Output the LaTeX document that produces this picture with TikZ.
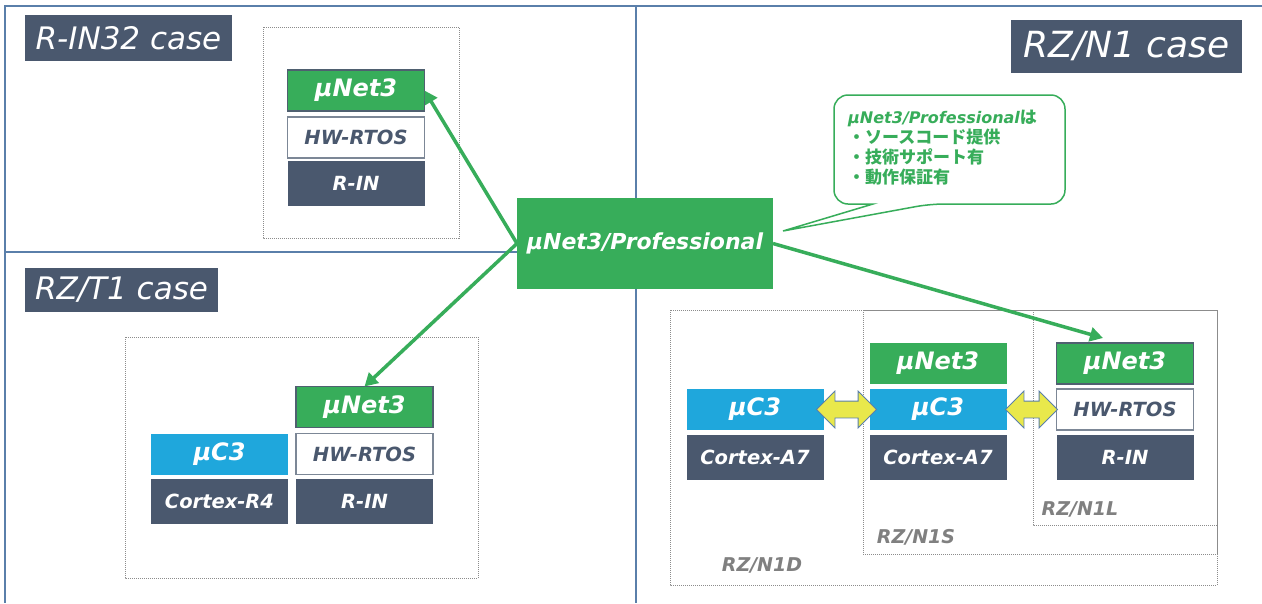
\documentclass[tikz,border=0pt]{standalone}
\usepackage{fontspec}
\newfontfamily\vfont{DejaVu Sans}[BoldFont={DejaVu Sans Bold},ItalicFont={DejaVu Sans Oblique},BoldItalicFont={DejaVu Sans Bold Oblique}]
\newfontfamily\cjk{Noto Sans CJK JP}
\usetikzlibrary{positioning,
	calc,
	shapes.arrows,
	arrows.meta}
\definecolor{slate}{HTML}{4A586E}
\definecolor{netgreen}{HTML}{37AD5A}
\definecolor{netedge}{HTML}{4F6070}
\definecolor{c3blue}{HTML}{1FA7DC}
\definecolor{rtosedge}{HTML}{7C8796}
\definecolor{framecol}{HTML}{5A7FAA}
\definecolor{swapyellow}{HTML}{E9E84B}
\tikzset{
	chip/.style={minimum width=137pt, minimum height=41pt, inner sep=0pt, outer sep=0pt,
		font=\vfont\bfseries\itshape\fontsize{19.5}{22}\selectfont},
	netbox/.style={chip, fill=netgreen, draw=netedge, line width=1.5pt, text=white,
		font=\vfont\bfseries\itshape\fontsize{24}{28}\selectfont},
	c3box/.style={chip, fill=c3blue, text=white,
		font=\vfont\bfseries\itshape\fontsize{24}{28}\selectfont},
	rtosbox/.style={chip, fill=white, draw=rtosedge, line width=1.5pt, text=slate},
	corebox/.style={chip, minimum height=45pt, fill=slate, text=white},
	casebox/.style={fill=slate, text=white, inner sep=0pt,
		font=\vfont\itshape\fontsize{31}{36}\selectfont},
	dotbox/.style={draw=black!45, line width=0.9pt, dash pattern=on 1pt off 1pt},
	dotlabel/.style={text=black!50, font=\vfont\bfseries\itshape\fontsize{19}{22}\selectfont},
	frame/.style={draw=framecol, line width=1.5pt},
	proarrow/.style={->, draw=netgreen, line width=3.5pt},
	swap/.style={double arrow, fill=swapyellow, draw=framecol, line width=0.8pt,
		inner sep=8pt, double arrow head extend=10pt, minimum width=36pt},
	>={Triangle[length=13pt,width=14pt]}
}
\begin{document}
\begin{tikzpicture}[x=1pt,y=-1pt]
	\useasboundingbox (0,0) rectangle (1262,603);
	\fill[white] (0,0) rectangle (1262,603);
	% panels
	\draw[frame] (1262,6) -- (5,6) -- (5,603);
	\draw[frame] (636,6) -- (636,603);
	\draw[frame] (5,252) -- (636,252);
	\node[casebox, minimum width=207pt, minimum height=46pt] (rcase) at (128.5,38) {R-IN32 case};
	\node[casebox, minimum width=193pt, minimum height=44pt] (tcase) at (121.5,290) {RZ/T1 case};
	\node[casebox, minimum width=231pt, minimum height=53pt, font=\vfont\itshape\fontsize{36}{40}\selectfont] (ncase) at (1126.5,46.5) {RZ/N1 case};
	% chip outlines
	\draw[dotbox] (263,27) rectangle (459,238);
	\draw[dotbox] (125,337) rectangle (478,578);
	\draw[dotbox] (670,310) rectangle (1217,585);
	\draw[dotbox] (863,310) rectangle (1217,554);
	\draw[dotbox] (1033,310) rectangle (1217,525);
	\node[dotlabel] (lbd) at (762,565) {RZ/N1D};
	\node[dotlabel] (lbs) at (916,537) {RZ/N1S};
	\node[dotlabel] (lbl) at (1080,509) {RZ/N1L};
	% R-IN32
	\node[netbox] (net1) at (356,90.5) {μNet3};
	\node[rtosbox, below=6pt of net1] (hw1) {HW-RTOS};
	\node[corebox, below=3pt of hw1] (rin1) {R-IN};
	% RZ/T1
	\node[netbox] (net2) at (364.5,407) {μNet3};
	\node[rtosbox, below=6pt of net2] (hw2) {HW-RTOS};
	\node[corebox, below=4pt of hw2] (rin2) {R-IN};
	\node[c3box, left=8pt of hw2] (c3t) {μC3};
	\node[corebox, left=8pt of rin2] (cr4) {Cortex-R4};
	% RZ/N1
	\node[netbox] (net3) at (1125,363.5) {μNet3};
	\node[rtosbox, below=5pt of net3] (hw3) {HW-RTOS};
	\node[corebox, below=5pt of hw3] (rin3) {R-IN};
	\node[netbox, draw=none] (net4) at (938,363.5) {μNet3};
	\node[c3box, below=5pt of net4] (c3b) {μC3};
	\node[corebox, below=5pt of c3b] (a7b) {Cortex-A7};
	\node[c3box, left=46pt of c3b] (c3a) {μC3};
	\node[corebox, below=5pt of c3a] (a7a) {Cortex-A7};
	\node[swap, minimum height=60pt] (swap1) at ($(c3a.east)!0.5!(c3b.west)$) {};
	\node[swap, minimum height=52pt] (swap2) at ($(c3b.east)!0.5!(hw3.west)$) {};
	% product
	\coordinate (n1tip) at ($(net3.north)+(-22,-5)$);
	\draw[proarrow] (517,243.5) -- (net1.east);
	\draw[proarrow] (517,243.5) -- (net2.north);
	\draw[proarrow] (773,243.5) -- (n1tip);
	\node[minimum width=256pt, minimum height=91pt, fill=netgreen, text=white, inner sep=0pt,
		font=\vfont\bfseries\itshape\fontsize{22}{26}\selectfont] (pro) at (645,243.5) {μNet3/Professional};
	% note
	\draw[draw=netgreen, line width=1.5pt, fill=white] (873,204) [rounded corners=14pt] -- (834,204) -- (834,95)
		-- (1065,95) -- (1065,204) -- (930,204) [sharp corners] -- (783,231) -- cycle;
	\node[anchor=north west, inner sep=0pt, align=left, text=netgreen,
		font=\cjk\bfseries\fontsize{17}{20}\selectfont] (note) at (848,110)
		{{\vfont\itshape\fontsize{16}{20}\selectfont μNet3/Professional}は\\・ソースコード提供\\・技術サポート有\\・動作保証有};
\end{tikzpicture}
\end{document}
